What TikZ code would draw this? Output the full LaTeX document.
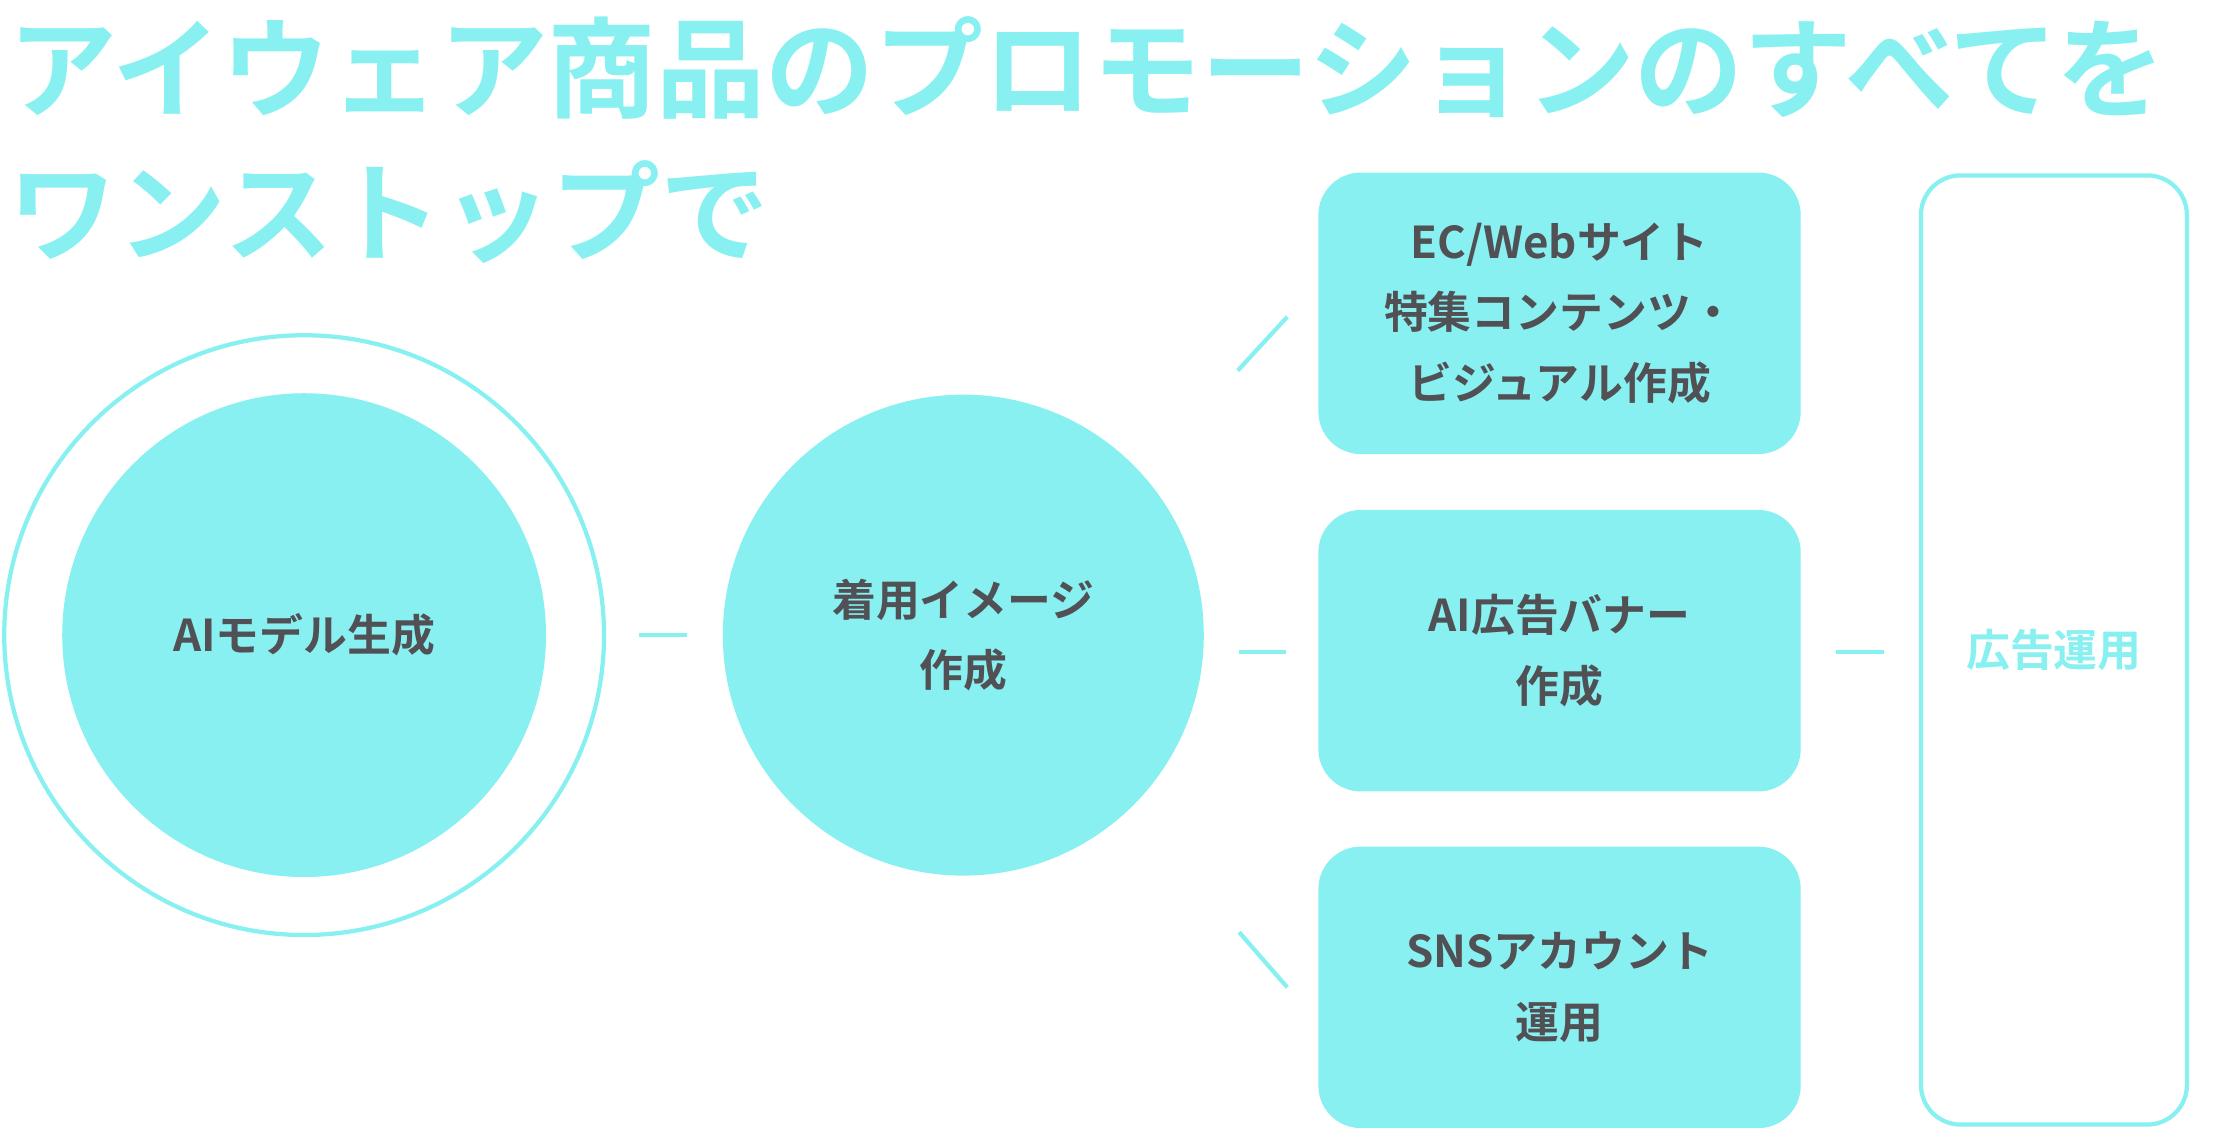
\documentclass[tikz,border=0pt]{standalone}
\usepackage{fontspec}
\setmainfont{Noto Sans CJK JP}[UprightFont=* Bold]
\definecolor{cy}{HTML}{88F0F0}
\definecolor{tx}{HTML}{505055}
\tikzset{lbl/.style={text=tx,align=center,font=\fontsize{31}{50}\selectfont},
 ln/.style={draw=cy,line width=3pt},
 bx/.style={fill=cy,rounded corners=30pt,minimum width=341pt,minimum height=199pt}}
\begin{document}
\begin{tikzpicture}[x=1pt,y=-1pt]
\useasboundingbox (0,0) rectangle (1568,799);
\node[anchor=west,text=cy,font=\fontsize{77}{90}\selectfont,inner sep=0] (t1) at (6,48) {アイウェア商品のプロモーションのすべてを};
\node[anchor=west,text=cy,font=\fontsize{77}{90}\selectfont,inner sep=0] (t2) at (6,150) {ワンストップで};
\draw[cy,line width=3pt] (215,449) circle (212);
\node[circle,fill=cy,minimum size=342pt,inner sep=0,lbl] (a) at (215,449) {AIモデル生成};
\node[circle,fill=cy,minimum size=340pt,inner sep=0,lbl] (b) at (681,449) {着用イメージ\\作成};
\node[bx,lbl] (c1) at (1102.5,221.5) {EC/Webサイト\\特集コンテンツ・\\ビジュアル作成};
\node[bx,lbl] (c2) at (1102.5,460) {AI広告バナー\\作成};
\node[bx,lbl] (c3) at (1102.5,698) {SNSアカウント\\運用};
\node[draw=cy,line width=3pt,rounded corners=28pt,minimum width=188pt,minimum height=671pt,text=cy,font=\fontsize{31}{40}\selectfont] (d) at (1452,459.5) {広告運用};
\coordinate (p1) at (452,449); \coordinate (p2) at (486,449);
\coordinate (q1) at (875,262); \coordinate (q2) at (910,224);
\coordinate (r1) at (876,461); \coordinate (r2) at (909,461);
\coordinate (s1) at (876,659); \coordinate (s2) at (910,698);
\coordinate (u1) at (1298,461); \coordinate (u2) at (1332,461);
\draw[ln] (p1)--(p2); \draw[ln] (q1)--(q2); \draw[ln] (r1)--(r2);
\draw[ln] (s1)--(s2); \draw[ln] (u1)--(u2);
\end{tikzpicture}
\end{document}
